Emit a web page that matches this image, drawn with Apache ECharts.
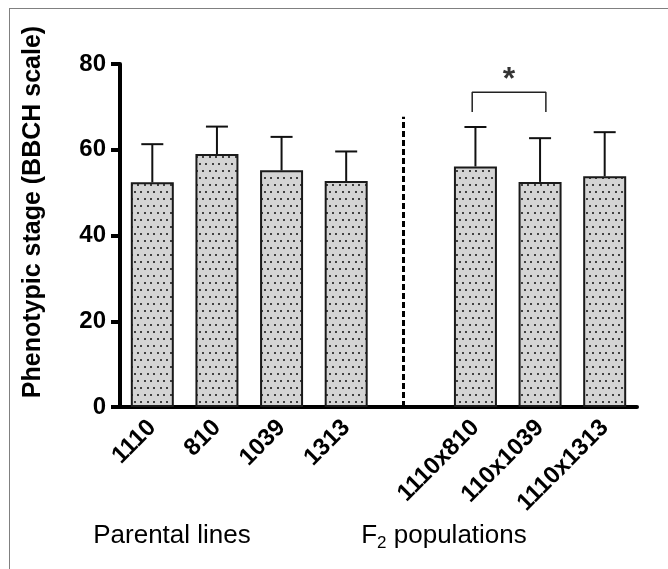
<!DOCTYPE html>
<html>
<head>
<meta charset="utf-8">
<script src="https://cdn.jsdelivr.net/npm/echarts@6/dist/echarts.min.js"></script>
<style>
    html, body { margin: 0; padding: 0; background: #fff; }
    #myChart { width: 668px; height: 569px; }
    .frame {
        position: absolute;
        left: 9px;
        top: 8px;
        width: 700px;
        height: 600px;
        border-left: 1px solid #808080;
        border-top: 1px solid #808080;
        pointer-events: none;
    }
</style>
</head>
<body>
<div id="myChart"></div>
<div class="frame"></div>
<script>
// 亲本 / F2 群体
var parentNames = ['1110', '810', '1039', '1313'];
var parentMeans = [52.4, 59.0, 55.2, 52.7];
var parentSD = [8.9, 6.4, 7.8, 6.9];

var f2Names = ['1110x810', '110x1039', '1110x1313'];
var f2Means = [56.1, 52.5, 53.8];
var f2SD = [9.2, 10.2, 10.3];

var yTicks = [0, 20, 40, 60, 80];

// 显著性标记 (hidden value axis 0..8)
var bracketX = [5.45, 6.59];
var bracketY = [68.8, 73.4];
var starPos = [6.02, 76.2];
var dividerX = 4.38;
var dividerTop = 67.7;

// one empty slot between the two groups
var categories = parentNames.concat(['']).concat(f2Names);
var means = parentMeans.concat(['-']).concat(f2Means);
var errData = [];
parentMeans.forEach(function (m, i) { errData.push([i, m, parentSD[i]]); });
f2Means.forEach(function (m, i) { errData.push([parentNames.length + 1 + i, m, f2SD[i]]); });

// dotted fill
var tile = document.createElement('canvas');
tile.width = 13;
tile.height = 14;
var ctx = tile.getContext('2d');
ctx.fillStyle = '#d4d4d4';
ctx.fillRect(0, 0, 13, 14);
ctx.fillStyle = '#404040';
ctx.fillRect(1, 2, 2, 2);
ctx.fillRect(7, 2, 2, 2);
ctx.fillRect(4, 9, 2, 2);
ctx.fillRect(10, 9, 2, 2);

var font = 'Liberation Sans, Arial, sans-serif';
var myChart = echarts.init(document.getElementById('myChart'));
var options = {
    animation: false,
    grid: { left: 120, right: 31, top: 64, bottom: 162 },
    xAxis: [{
        type: 'category',
        data: categories,
        axisLine: { lineStyle: { color: '#000', width: 4 } },
        axisTick: { show: false },
        axisLabel: {
            rotate: 45,
            interval: 0,
            margin: 17,
            color: '#000',
            fontWeight: 'bold',
            fontSize: 24,
            fontFamily: font
        }
    }, {
        type: 'value',
        min: 0,
        max: 8,
        show: false
    }],
    yAxis: {
        type: 'value',
        min: 0,
        max: 80,
        interval: 20,
        splitLine: { show: false },
        axisLine: { show: true, lineStyle: { color: '#000', width: 4 } },
        axisTick: { show: true, length: 9, lineStyle: { color: '#000', width: 4 } },
        axisLabel: {
            margin: 14,
            color: '#000',
            fontWeight: 'bold',
            fontSize: 24,
            fontFamily: font,
            customValues: yTicks
        }
    },
    graphic: [{
        type: 'text',
        x: 33,
        y: 212,
        rotation: Math.PI / 2,
        style: {
            text: 'Phenotypic stage (BBCH scale)',
            font: 'bold 25px ' + font,
            fill: '#000',
            align: 'center',
            verticalAlign: 'middle'
        }
    }, {
        type: 'text',
        x: 172,
        y: 536,
        style: {
            text: 'Parental lines',
            font: '26px ' + font,
            fill: '#000',
            align: 'center',
            verticalAlign: 'middle'
        }
    }, {
        type: 'text',
        x: 444,
        y: 536,
        style: {
            text: '{a|F}{s|2}{a| populations}',
            fill: '#000',
            align: 'center',
            verticalAlign: 'middle',
            rich: {
                a: { fontSize: 26, fontFamily: font, lineHeight: 32 },
                s: { fontSize: 17, fontFamily: font, lineHeight: 14, verticalAlign: 'bottom' }
            }
        }
    }],
    series: [{
        type: 'bar',
        data: means,
        barWidth: 43,
        itemStyle: {
            color: { image: tile, repeat: 'repeat' },
            borderColor: '#1a1a1a',
            borderWidth: 2
        }
    }, {
        type: 'custom',
        data: errData,
        z: 3,
        renderItem: function (params, api) {
            var top = api.coord([api.value(0), api.value(1) + api.value(2)]);
            var bot = api.coord([api.value(0), api.value(1)]);
            var st = { stroke: '#111', lineWidth: 2 };
            return {
                type: 'group',
                children: [
                    { type: 'line', shape: { x1: bot[0], y1: bot[1], x2: top[0], y2: top[1] }, style: st },
                    { type: 'line', shape: { x1: top[0] - 11, y1: top[1], x2: top[0] + 11, y2: top[1] }, style: st }
                ]
            };
        }
    }, {
        type: 'line',
        xAxisIndex: 1,
        symbol: 'none',
        lineStyle: { color: '#222', width: 1.5 },
        data: [
            [bracketX[0], bracketY[0]],
            [bracketX[0], bracketY[1]],
            [bracketX[1], bracketY[1]],
            [bracketX[1], bracketY[0]]
        ],
        markLine: {
            silent: true,
            symbol: 'none',
            label: { show: false },
            lineStyle: { color: '#000', width: 3, type: [6, 3] },
            data: [[
                { coord: [dividerX, 0] },
                { coord: [dividerX, dividerTop] }
            ]]
        }
    }, {
        type: 'scatter',
        xAxisIndex: 1,
        symbolSize: 1,
        itemStyle: { color: 'rgba(0,0,0,0)' },
        data: [starPos],
        label: {
            show: true,
            position: 'inside',
            formatter: '*',
            color: '#000',
            fontWeight: 'bold',
            fontSize: 32,
            fontFamily: font
        }
    }]
};
myChart.setOption(options);
</script>
</body>
</html>
